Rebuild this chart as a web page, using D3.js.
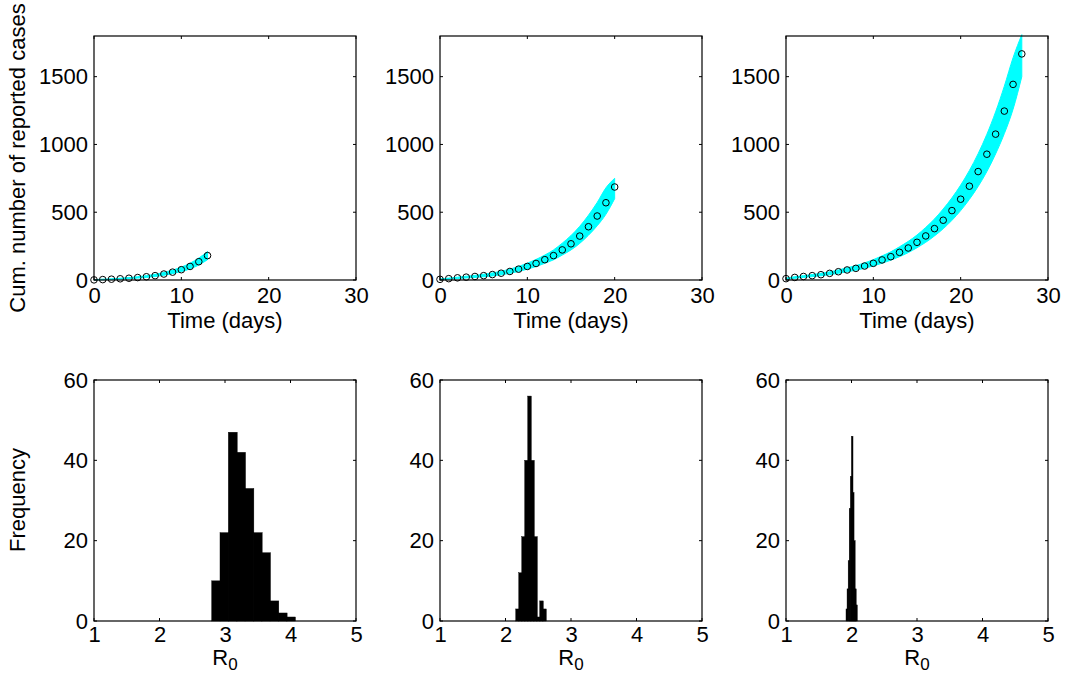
<!DOCTYPE html>
<html><head><meta charset="utf-8">
<script src="https://cdn.jsdelivr.net/npm/d3@7"></script>
<style>body{margin:0;background:#fff}svg{display:block}text{font-family:"Liberation Sans",Arial,sans-serif}</style>
</head><body><svg id="c" width="1066" height="675"></svg>
<script>
// ---- data ----
const daysA = [0,1,2,3,4,5,6,7,8,9,10,11,12,13];
const casesA = [1,3,6,9,13,18,24,32,44,58,76,100,135,180];
const lowA = [0,2,4,7,10,14,19,26,35,47,62,82,110,150];
const highA = [3,6,9,13,18,24,32,42,56,73,95,124,162,210];

const daysB = [0,1,2,3,4,5,6,7,8,9,10,11,12,13,14,15,16,17,18,19,20];
const casesB = [5,10,16,21,26,32,40,50,63,80,100,122,150,180,222,267,324,393,472,570,686];
const lowB = [2,6,11,15,19,24,30,38,49,63,80,99,123,149,184,222,270,330,400,485,600];
const highB = [8,14,21,28,34,42,52,64,80,100,124,152,184,222,272,328,396,478,572,680,750];

const daysC = [0,1,2,3,4,5,6,7,8,9,10,11,12,13,14,15,16,17,18,19,20,21,22,23,24,25,26,27];
const casesC = [10,19,26,32,39,49,61,74,86,103,123,148,172,204,236,278,325,379,441,512,596,692,800,928,1076,1246,1443,1668];
const lowC = [5,13,19,25,31,39,49,60,72,86,104,124,146,172,202,238,278,325,378,440,512,595,690,800,930,1080,1260,1500];
const highC = [14,24,32,40,49,60,74,90,106,126,150,178,208,245,285,332,388,450,524,606,700,808,932,1075,1240,1430,1640,1810];

const binsA = [2.860,2.987,3.114,3.241,3.368,3.495,3.622,3.749,3.876,4.003];
const countsA = [10,22,47,42,33,22,17,5,2,1];
const binsB = [2.179,2.225,2.271,2.316,2.362,2.408,2.454,2.500,2.545,2.591];
const countsB = [3,12,21,40,56,40,21,1,5,3];
const binsC = [1.924,1.940,1.957,1.973,1.990,2.006,2.022,2.039,2.055,2.072];
const countsC = [3,8,15,28,36,46,32,20,8,4];

const timeTicks = [0,10,20,30];
const caseTicks = [0,500,1000,1500];
const r0Ticks = [1,2,3,4,5];
const freqTicks = [0,20,40,60];

// ---- layout ----
const svg = d3.select("#c");
const colX = [94, 440, 786], W = 262;
const topY = [36, 280], botY = [380, 621];
const FS = 22, TL = 3;
const fmt = d3.format("d");

function frame(g, x, y, xt, yt, pad) {
  const y0 = y.range()[0], y1 = y.range()[1], x0 = x.range()[0], x1 = x.range()[1];
  g.append("rect").attr("x", x0).attr("y", y1)
    .attr("width", x1-x0).attr("height", y0-y1)
    .attr("fill","none").attr("stroke","#000").attr("stroke-width",1.2);
  const axB = d3.axisBottom(x).tickValues(xt).tickFormat(fmt).tickSize(0).tickPadding(pad);
  const gb = g.append("g").attr("transform",`translate(0,${y0})`).call(axB);
  gb.select(".domain").remove();
  gb.selectAll("text").attr("font-size",FS).attr("fill","#000").style("font-family",'"Liberation Sans",Arial,sans-serif');
  const axL = d3.axisLeft(y).tickValues(yt).tickFormat(fmt).tickSize(0).tickPadding(6);
  const gl = g.append("g").attr("transform",`translate(${x0},0)`).call(axL);
  gl.select(".domain").remove();
  gl.selectAll("text").attr("font-size",FS).attr("fill","#000").style("font-family",'"Liberation Sans",Arial,sans-serif');
  xt.forEach(v => {
    const px = x(v);
    g.append("line").attr("x1",px).attr("x2",px).attr("y1",y0).attr("y2",y0-TL).attr("stroke","#000");
    g.append("line").attr("x1",px).attr("x2",px).attr("y1",y1).attr("y2",y1+TL).attr("stroke","#000");
  });
  yt.forEach(v => {
    const py = y(v);
    g.append("line").attr("x1",x0).attr("x2",x0+TL).attr("y1",py).attr("y2",py).attr("stroke","#000");
    g.append("line").attr("x1",x1).attr("x2",x1-TL).attr("y1",py).attr("y2",py).attr("stroke","#000");
  });
}

const topSets = [[daysA,casesA,lowA,highA],[daysB,casesB,lowB,highB],[daysC,casesC,lowC,highC]];
topSets.forEach((s, i) => {
  const [days, cases, low, high] = s;
  const g = svg.append("g");
  const x = d3.scaleLinear().domain([0,30]).range([colX[i], colX[i]+W]);
  const y = d3.scaleLinear().domain([0,1800]).range([topY[1], topY[0]]);
  const area = d3.area().x((d,k)=>x(days[k])).y0((d,k)=>y(low[k])).y1((d,k)=>y(high[k])).curve(d3.curveMonotoneX);
  g.append("path").datum(days).attr("d", area).attr("fill","#00ffff").attr("stroke","#00ffff").attr("stroke-width",1);
  g.selectAll("circle").data(days).join("circle")
    .attr("cx",(d)=>x(d)).attr("cy",(d,k)=>y(cases[k])).attr("r",3.3)
    .attr("fill","none").attr("stroke","#000").attr("stroke-width",1);
  frame(g, x, y, timeTicks, caseTicks, 7);
  g.append("text").attr("x", colX[i]+W/2).attr("y", 328).attr("text-anchor","middle")
    .attr("font-size",FS).text("Time (days)");
});

const botSets = [[binsA,countsA],[binsB,countsB],[binsC,countsC]];
botSets.forEach((s, i) => {
  const [bins, counts] = s;
  const g = svg.append("g");
  const x = d3.scaleLinear().domain([1,5]).range([colX[i], colX[i]+W]);
  const y = d3.scaleLinear().domain([0,60]).range([botY[1], botY[0]]);
  const bw = bins[1]-bins[0];
  g.selectAll("rect.bar").data(bins).join("rect").attr("class","bar")
    .attr("x",d=>x(d-bw/2)).attr("width",d=>x(d+bw/2)-x(d-bw/2)+0.6)
    .attr("y",(d,k)=>y(counts[k])).attr("height",(d,k)=>y(0)-y(counts[k]))
    .attr("fill","#000").attr("stroke","#000").attr("stroke-width",0.4);
  frame(g, x, y, r0Ticks, freqTicks, 5);
  const t = g.append("text").attr("x", colX[i]+W/2).attr("y", 665).attr("text-anchor","middle").attr("font-size",FS);
  t.append("tspan").text("R");
  t.append("tspan").attr("dy",5).attr("font-size",17).text("0");
});

svg.append("text").attr("transform","translate(25,158) rotate(-90)").attr("text-anchor","middle").attr("font-size",FS).text("Cum. number of reported cases");
svg.append("text").attr("transform","translate(25,500) rotate(-90)").attr("text-anchor","middle").attr("font-size",FS).text("Frequency");
</script></body></html>
